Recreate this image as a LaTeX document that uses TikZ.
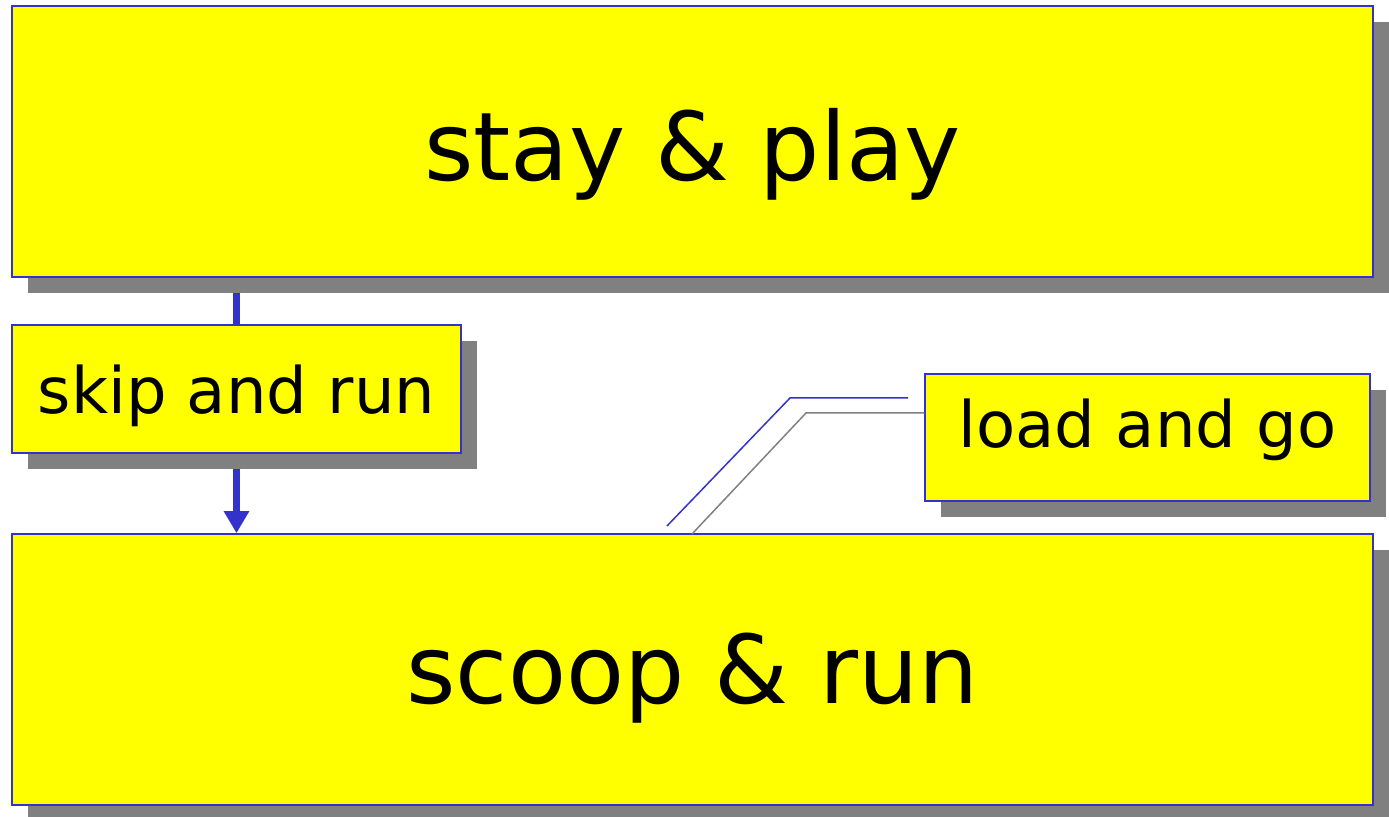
\documentclass[tikz,border=0pt]{standalone}
\usepackage{fontspec}
\setmainfont{DejaVu Sans}
\usetikzlibrary{arrows.meta,shadows,backgrounds}
\definecolor{boxblue}{HTML}{3333CC}
\definecolor{shadowgray}{HTML}{808080}
\definecolor{boxyellow}{HTML}{FFFF00}
\begin{document}
\begin{tikzpicture}[x=0.5pt,y=-0.5pt,
  box/.style={draw=boxblue, line width=0.75pt, fill=boxyellow, inner sep=0pt,
    general shadow={fill=shadowgray, shadow xshift=8pt, shadow yshift=-8pt}},
  bigtext/.style={anchor=base, inner sep=0pt, font=\fontsize{47.5}{57}\selectfont},
  smalltext/.style={anchor=base, inner sep=0pt, font=\fontsize{32}{38}\selectfont},
  flow/.style={draw=boxblue, line width=3.5pt},
  callout/.style={draw=boxblue, line width=0.75pt},
  calloutshadow/.style={draw=shadowgray, line width=0.75pt}]
\useasboundingbox (0,0) rectangle (1389,817);
\node[box, minimum width=680.5pt, minimum height=135.5pt] (top) at (692.5,141.5) {};
\node[box, minimum width=224.5pt, minimum height=64pt] (skip) at (236.5,389) {};
\node[box, minimum width=222.5pt, minimum height=63.5pt] (load) at (1147.5,437.5) {};
\node[box, minimum width=680.5pt, minimum height=135.5pt] (bottom) at (692.5,669.5) {};
\node[bigtext] (ttop) at (692.5,181) {stay \& play};
\node[smalltext] (tskip) at (236.5,414) {skip and run};
\node[smalltext] (tload) at (1147.5,448) {load and go};
\node[bigtext] (tbottom) at (692.5,704) {scoop \& run};
\begin{scope}[on background layer]
  \draw[flow] (top.south -| skip) -- (skip.north);
  \draw[flow, -{Triangle[width=12pt,length=11pt]}] (skip.south) -- (skip.south |- bottom.north);
\end{scope}
\coordinate (b1) at (667,526);
\coordinate (b2) at (908,398);
\draw[callout] (b1) -- (790,398) -- (b2);
\coordinate (g1) at (692,534);
\draw[calloutshadow] (g1) -- (806,413) -- (load.west |- 806,413);
\end{tikzpicture}
\end{document}
